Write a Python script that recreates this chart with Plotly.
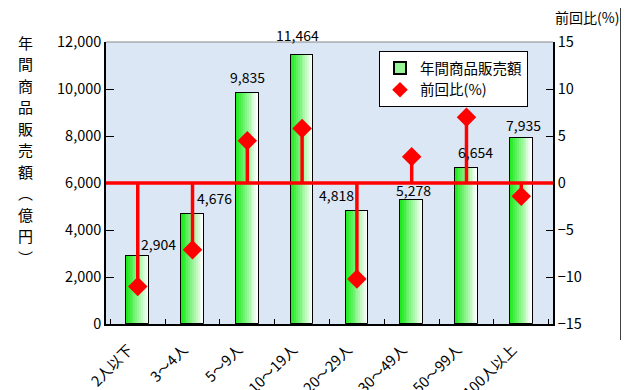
import plotly.graph_objects as go

categories = ["2人以下", "3～4人", "5～9人", "10～19人", "20～29人", "30～49人", "50～99人", "100人以上"]
sales = [2904, 4676, 9835, 11464, 4818, 5278, 6654, 7935]
ratio = [-11.0, -7.1, 4.5, 5.8, -10.2, 2.8, 7.0, -1.4]
sales_labels = [f"{v:,}" for v in sales]

# label placement tweaks (pixels)
label_xshift = [21, 22, 0, -5, -20, 2, 9, 2]
label_yshift = [0, 4, 4, 8, 4, -2, 4, 1]

FONT = "Noto Sans CJK JP"
BAR_W = 0.41
N_STRIPS = 12

# page body has an 8px margin: lay the figure out in page pixels minus this offset
OFF = 8
W, H = 629 - OFF, 390 - OFF
PL, PR, PT, PB = 106 - OFF, 553 - OFF, 42 - OFF, 324 - OFF
PW, PH = PR - PL, PB - PT


def px_x(x):
    return (x - OFF - PL) / PW


def px_y(y):
    return (PB - (y - OFF)) / PH


fig = go.Figure()

# legend representative bar (drawn underneath)
fig.add_trace(go.Bar(
    x=categories, y=sales, name="年間商品販売額", width=BAR_W,
    marker=dict(color="rgb(150,245,150)", line=dict(color="black", width=1)),
    showlegend=True, hoverinfo="skip"))

# gradient strips (green -> white)
sw = BAR_W / N_STRIPS
for i in range(N_STRIPS):
    t = i / (N_STRIPS - 1)
    r = int(30 + (255 - 30) * t)
    g = int(235 + (255 - 235) * t)
    b = int(30 + (255 - 30) * t)
    fig.add_trace(go.Bar(
        x=categories, y=sales, width=sw * 1.05, offset=-BAR_W / 2 + i * sw,
        marker=dict(color=f"rgb({r},{g},{b})", line=dict(width=0)),
        showlegend=False, hoverinfo="skip"))

# outline on top
fig.add_trace(go.Bar(
    x=categories, y=sales, width=BAR_W,
    marker=dict(color="rgba(0,0,0,0)", line=dict(color="black", width=1)),
    showlegend=False, hoverinfo="skip"))

# stems from zero to ratio values
stem_x, stem_y = [], []
for c, v in zip(categories, ratio):
    stem_x += [c, c, None]
    stem_y += [0, v, None]
fig.add_trace(go.Scatter(
    x=stem_x, y=stem_y, yaxis="y2", mode="lines",
    line=dict(color="#ff0000", width=3.5), showlegend=False, hoverinfo="skip"))

fig.add_trace(go.Scatter(
    x=categories, y=ratio, yaxis="y2", mode="markers", name="前回比(%)",
    marker=dict(symbol="diamond", size=15, color="#ff0000")))

annotations = []
for c, v, s, dx, dy in zip(categories, sales, sales_labels, label_xshift, label_yshift):
    annotations.append(dict(x=c, y=v, text=s, showarrow=False, yanchor="bottom",
                            xshift=dx, yshift=dy, font=dict(size=14, color="black", family=FONT)))

title_chars = ["年", "間", "商", "品", "販", "売", "額", "︵", "億", "円", "︶"]
for i, ch in enumerate(title_chars):
    annotations.append(dict(xref="paper", yref="paper", x=px_x(25),
                            y=px_y(42 + i * 21.5), text=ch, showarrow=False,
                            xanchor="center", yanchor="middle",
                            font=dict(size=15, color="black", family=FONT)))

annotations.append(dict(xref="paper", yref="paper", x=px_x(587), y=px_y(17),
                        text="前回比(%)", showarrow=False, xanchor="center", yanchor="middle",
                        font=dict(size=14, color="black", family=FONT)))

fig.update_layout(
    width=W, height=H,
    margin=dict(l=PL, r=W - PR, t=PT, b=H - PB, autoexpand=False),
    paper_bgcolor="white", plot_bgcolor="#dbe7f4",
    barmode="overlay", bargap=0,
    font=dict(family=FONT, size=14, color="black"),
    showlegend=True,
    legend=dict(x=px_x(379), y=px_y(51), xanchor="left", yanchor="top",
                bgcolor="white", bordercolor="black", borderwidth=1,
                font=dict(size=14.5, family=FONT), tracegroupgap=0, itemsizing="constant",
                itemwidth=30),
    xaxis=dict(type="category", showgrid=False, showline=True, linecolor="black", linewidth=1.5,
               ticks="inside", tickson="boundaries", ticklen=5, tickcolor="black",
               tickangle=-45, automargin=False, tickfont=dict(size=14.5, family=FONT),
               ticklabelstandoff=10, ticklabelshift=-9, mirror=False),
    yaxis=dict(range=[0, 12000], dtick=2000, tickformat=",d", showgrid=False, zeroline=False,
               showline=True, linecolor="black", linewidth=1.5, ticks="inside", ticklen=8,
               tickcolor="black", automargin=False, tickfont=dict(size=14.5, family=FONT)),
    yaxis2=dict(range=[-15, 15], dtick=5, overlaying="y", side="right", showgrid=False,
                zeroline=False,
                showline=True, linecolor="black", linewidth=1.5, ticks="inside", ticklen=7,
                tickcolor="black", automargin=False, tickfont=dict(size=14.5, family=FONT),
                tickformat="d"),
    annotations=annotations,
    shapes=[
        dict(type="line", xref="paper", yref="paper", x0=0, x1=1, y0=1, y1=1,
             line=dict(color="#888888", width=1)),
        dict(type="line", xref="paper", yref="y2", x0=0, x1=1, y0=0, y1=0, layer="above",
             line=dict(color="#ff0000", width=3.5)),
        dict(type="line", xref="paper", yref="paper",
             x0=px_x(621), x1=px_x(621), y0=px_y(0), y1=px_y(340),
             line=dict(color="black", width=1.5)),
    ],
)

fig.write_html("out.html")
